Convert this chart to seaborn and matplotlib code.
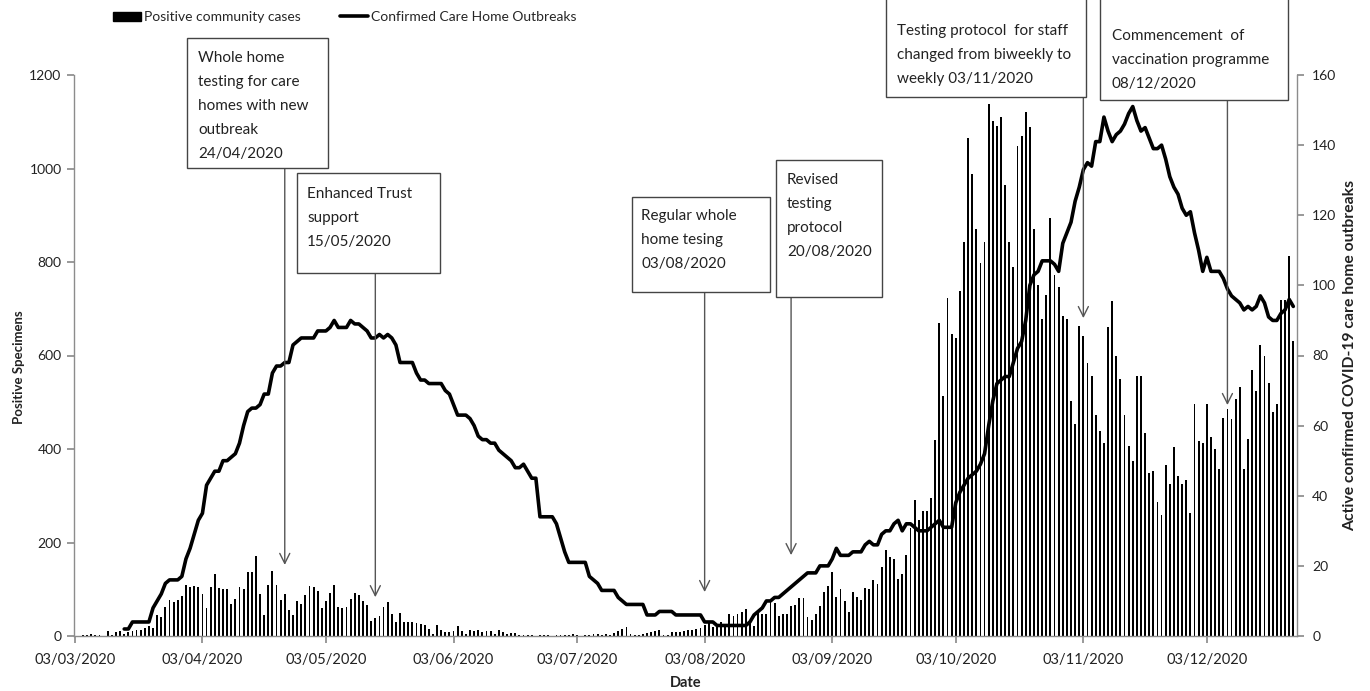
import numpy as np
import pandas as pd
import matplotlib
matplotlib.use("Agg")
import matplotlib.pyplot as plt
import seaborn as sns
from matplotlib.patches import Rectangle, Patch
from matplotlib.lines import Line2D

# ---------------- data ----------------
start_date = "2020-03-03"
end_date = "2020-12-24"

cases = (
    [1, 0, 2, 2, 4, 2, 2, 1, 10, 3, 8, 10, 4, 8]
    + [10, 13, 13, 17, 21, 17, 45, 40, 62, 76, 73, 76, 85, 110, 105, 107, 104, 90,
       59, 105, 132, 102, 100, 100, 68, 80, 105, 100, 137, 137, 172, 90, 45, 110, 140, 110]
    + [76, 90, 55, 45, 74, 69, 88, 107, 104, 97]
    + [59, 75, 91, 109, 63, 59, 63, 79, 91, 87, 75, 66, 33, 38, 43, 63, 73, 48]
    + [31, 50, 31, 31, 30, 28, 26, 24, 16, 5, 24, 13, 8, 8, 10, 21, 11, 5, 13, 11,
       13, 8, 11, 11, 5, 13, 8, 5, 6, 6]
    + [2, 2, 3, 2, 1, 2, 3, 2, 1, 2, 2, 3, 2, 4, 2, 1, 3, 2, 5, 4, 2, 5, 3, 6]
    + [11, 16, 20, 5, 3, 3, 4, 6, 8, 11, 13, 2, 3, 8, 8, 8, 10, 13, 13, 15]
    + [18, 24, 27, 20, 24, 31, 21, 47, 43, 47, 52, 57, 31, 21, 50, 47, 47, 77, 71, 43,
       47, 47, 64, 66, 82, 82, 40, 34, 47, 64, 95, 108, 136, 83, 101, 75, 52, 95, 84, 76,
       102, 101, 120, 111, 147, 183]
    + [170, 164, 122, 132, 173, 230, 291, 249, 268, 268, 295, 419, 669, 513, 722, 646,
       638, 739, 843, 1066, 988, 870, 798, 843, 1137, 1101, 1091, 1111, 965, 843, 790,
       1049, 1070, 1120, 1089, 870, 750, 679, 730, 895, 773, 746, 685, 679, 502, 453,
       663, 641, 583, 556]
    + [473, 438, 412, 662, 717, 598, 550, 473, 407, 374, 556, 556, 434, 349, 353, 286,
       258, 365, 326, 405, 342, 326, 334, 263, 497, 417, 412, 497, 426, 399, 358, 466,
       486, 465, 507, 533, 357, 422, 569, 523, 623, 598, 542, 480, 497, 718, 718, 812, 631]
)

outbreaks = (
    [np.nan] * 12
    + [2, 2, 4, 4, 4, 4, 4, 8, 10, 12, 15, 16, 16, 16, 17, 22, 25, 29, 33, 35, 43, 45,
       47, 47, 50, 50, 51, 52, 55, 60, 64, 65, 65, 66, 69, 69, 75, 77]
    + [77, 78, 78, 83, 84, 85, 85, 85, 85, 87, 87, 87, 88, 90, 88, 88, 88, 90, 89, 89,
       88, 87, 85, 85, 86, 85, 86, 85, 83, 78, 78, 78, 78, 75, 73, 73, 72, 72, 72, 72,
       70, 69, 66, 63, 63, 63, 62, 60, 57, 56]
    + [56, 55, 55, 53, 52, 51, 50, 48, 48, 49, 47, 45, 45, 34, 34, 34, 34, 32, 28, 24,
       21, 21, 21, 21, 21, 17, 16, 15, 13, 13, 13, 13, 11, 10, 9, 9, 9, 9, 9, 6,
       6, 6, 7, 7, 7, 7, 6, 6, 6, 6]
    + [6, 6, 6, 4, 4, 4, 3, 3, 3, 3, 3, 3, 3, 3, 4, 6, 7, 8, 10, 10, 11, 11, 12, 13,
       14, 15, 16, 17, 18, 18, 18, 20, 20, 20, 22, 25, 23, 23, 23, 24, 24, 24, 26, 27,
       26, 26, 29, 30, 30]
    + [32, 33, 30, 32, 32, 31, 30, 30, 30, 31, 32, 33, 31, 31, 31, 38, 41, 43, 45, 46,
       47, 49, 52, 60, 67, 72, 73, 74, 74, 78, 82, 84, 90, 100, 103, 104, 107, 107, 107,
       106, 104, 112, 115, 118, 124, 128, 133, 135, 134, 141]
    + [141, 148, 144, 141, 143, 144, 146, 149, 151, 147, 144, 145, 142, 139, 139, 140,
       136, 131, 128, 126, 122, 120, 121, 115, 110, 104, 108, 104, 104, 104, 102, 99,
       97, 96, 95, 93, 94, 93, 94, 97, 95, 91, 90, 90, 92, 93, 96, 94]
)

tick_dates = ["2020-03-03", "2020-04-03", "2020-05-03", "2020-06-03", "2020-07-03",
              "2020-08-03", "2020-09-03", "2020-10-03", "2020-11-03", "2020-12-03"]
left_ticks = [0, 200, 400, 600, 800, 1000, 1200]
right_ticks = [0, 20, 40, 60, 80, 100, 120, 140, 160]

event_texts = [
    "Whole home\ntesting for care\nhomes with new\noutbreak\n24/04/2020",
    "Enhanced Trust\nsupport\n15/05/2020",
    "Regular whole\nhome tesing\n03/08/2020",
    "Revised\ntesting\nprotocol\n20/08/2020",
    "Testing protocol  for staff\nchanged from biweekly to\nweekly 03/11/2020",
    "Commencement  of\nvaccination programme\n08/12/2020",
]
arrow_dates = ["2020-04-23", "2020-05-15", "2020-08-03", "2020-08-24", "2020-11-03", "2020-12-08"]
arrow_tip_values = [152, 83, 94, 173, 680, 494]

# ---------------- layout (figure pixels, top-left origin) ----------------
W, H = 1370, 691
boxes = [(187, 38, 328, 168), (297, 173, 440, 273), (632, 197, 770, 292),
         (776, 160, 882, 297), (886, -2, 1086, 97), (1100, -2, 1288, 100)]
text_pos = [(198, 51), (307, 187), (641, 209), (787, 173), (897, 24), (1112, 29)]

sns.set_theme(style="white")
plt.rcParams["font.family"] = ["Lato", "DejaVu Sans"]

fig = plt.figure(figsize=(W / 100, H / 100), dpi=100)
ax_l, ax_r, ax_t, ax_b = 74, 1297, 75, 636
ax = fig.add_axes([ax_l / W, 1 - ax_b / H, (ax_r - ax_l) / W, (ax_b - ax_t) / H])

dates = pd.date_range(start_date, end_date)
day = np.arange(len(dates))
df = pd.DataFrame({"day": day, "cases": cases, "outbreaks": outbreaks})

sns.barplot(data=df, x="day", y="cases", native_scale=True, width=0.45,
            color="black", saturation=1, linewidth=0, errorbar=None, ax=ax)
ax2 = ax.twinx()
sns.lineplot(data=df.dropna(), x="day", y="outbreaks", color="black",
             linewidth=2.6, ax=ax2)

ax.set_xlim(-0.2, len(dates) - 0.1)
ax.set_ylim(0, 1200)
ax2.set_ylim(0, 160)
tick_pos = [(pd.Timestamp(t) - dates[0]).days for t in tick_dates]
ax.set_xticks(tick_pos)
ax.set_xticklabels([pd.Timestamp(t).strftime("%d/%m/%Y") for t in tick_dates])
ax.set_yticks(left_ticks)
ax2.set_yticks(right_ticks)

spine_c = "#8c8c8c"
for a in (ax, ax2):
    for s in a.spines.values():
        s.set_visible(False)
ax.spines["left"].set_visible(True)
ax.spines["bottom"].set_visible(True)
ax2.spines["right"].set_visible(True)
for s in (ax.spines["left"], ax.spines["bottom"], ax2.spines["right"]):
    s.set_color(spine_c)
    s.set_linewidth(1)

ax.tick_params(axis="x", bottom=True, direction="out", length=5, color=spine_c,
               labelsize=10.5, labelcolor="#222222", pad=7)
ax.tick_params(axis="y", left=True, direction="out", length=5, color=spine_c,
               labelsize=10, labelcolor="#222222", pad=4)
ax2.tick_params(axis="y", right=True, direction="out", length=5, color=spine_c,
                labelsize=10, labelcolor="#222222", pad=6)
ax2.grid(False)
ax.grid(False)

ax.set_xlabel("Date", fontweight="bold", fontsize=10.5, color="#222222")
ax.xaxis.set_label_coords((686 - ax_l) / (ax_r - ax_l), (ax_b - 676) / (ax_b - ax_t))
ax.set_ylabel("Positive Specimens", fontweight="bold", fontsize=9.5, color="#222222")
ax.yaxis.set_label_coords((25 - ax_l) / (ax_r - ax_l), 0.48)
ax2.set_ylabel("Active confirmed COVID-19 care home outbreaks", fontweight="bold",
               fontsize=11.3, color="#222222")
ax2.yaxis.set_label_coords((1343 - ax_l) / (ax_r - ax_l), 0.5)

# legend
handles = [Patch(facecolor="black", edgecolor="black"),
           Line2D([0], [0], color="black", lw=2.6)]
fig.legend(handles, ["Positive community cases", "Confirmed Care Home Outbreaks"],
           loc="center", bbox_to_anchor=(345 / W, 1 - 17 / H), ncol=2, frameon=False,
           fontsize=10, handlelength=2.0, handletextpad=0.25, columnspacing=2.8,
           handleheight=0.6)

# annotation boxes and arrows
for (x0, y0, x1, y1), (tx, ty), txt, adate, aval in zip(
        boxes, text_pos, event_texts, arrow_dates, arrow_tip_values):
    rect = Rectangle((x0 / W, 1 - y1 / H), (x1 - x0) / W, (y1 - y0) / H,
                     transform=fig.transFigure, facecolor="white",
                     edgecolor="#444444", linewidth=1.0, zorder=5)
    fig.add_artist(rect)
    fig.text(tx / W, 1 - ty / H, txt, ha="left", va="top", fontsize=11,
             color="#222222", linespacing=1.9, zorder=6)
    dx = (pd.Timestamp(adate) - dates[0]).days
    ax2.annotate("", xy=(dx, aval * 160 / 1200), xycoords="data",
                 xytext=(dx, H - y1), textcoords=("data", "figure pixels"),
                 arrowprops=dict(arrowstyle="->", color="#555555", lw=1.0,
                                 mutation_scale=18, shrinkA=0, shrinkB=0),
                 zorder=4, annotation_clip=False)

fig.savefig("out.png", dpi=100)
